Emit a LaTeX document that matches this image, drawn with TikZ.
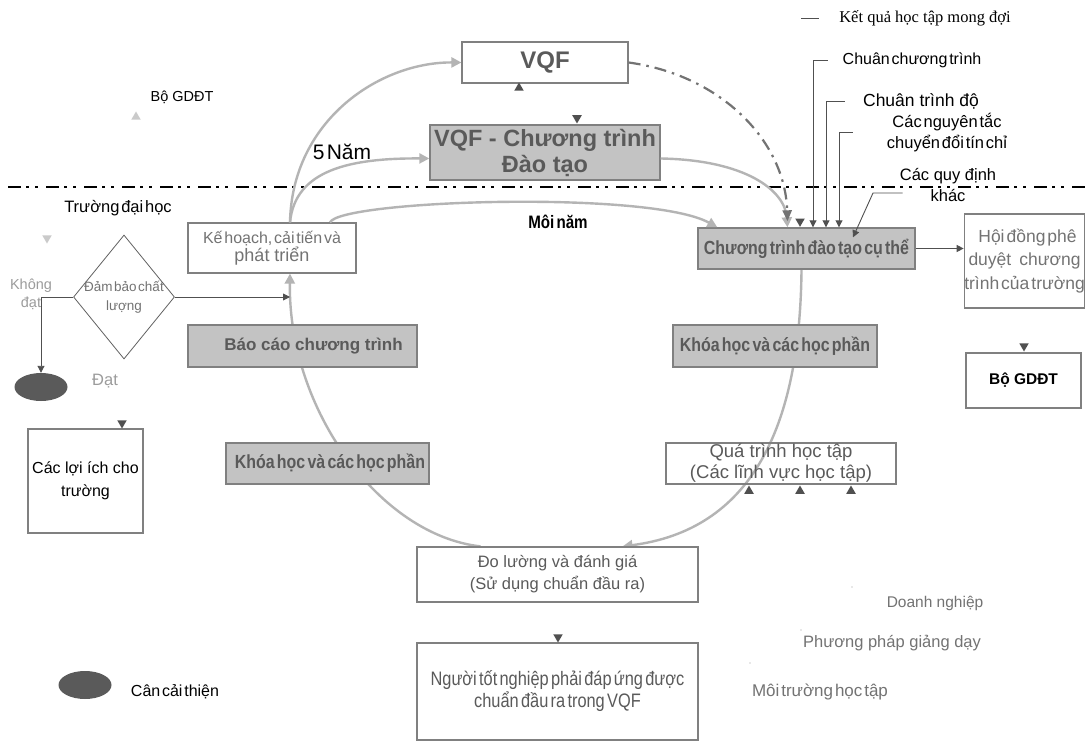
\documentclass[tikz,border=0pt]{standalone}
\usepackage{fontspec}
\setmainfont{Liberation Sans}
\newfontfamily\tight[WordSpace=0.4]{Liberation Sans}
\newfontfamily\narrow[FakeStretch=0.84,WordSpace=0.5]{Liberation Sans}
\newfontfamily\timesvn{Liberation Serif}
\usetikzlibrary{arrows.meta,shapes.geometric}

\definecolor{boxline}{HTML}{808080}
\definecolor{boxfill}{HTML}{C3C3C3}
\definecolor{txtgray}{HTML}{5A5A5A}
\definecolor{ringgray}{HTML}{B4B4B4}
\definecolor{darkline}{HTML}{505050}
\definecolor{ovalfill}{HTML}{5A5A5A}
\definecolor{lightgray}{HTML}{9C9C9C}
\definecolor{palegray}{HTML}{CACACA}

\newcommand{\fs}[2]{\fontsize{#1}{#2}\selectfont}

\pgfdeclarelayer{back}
\pgfsetlayers{back,main}

\tikzset{
  whitebox/.style={draw=boxline, fill=white, line width=1.2pt, text=txtgray, align=center, inner sep=0pt},
  graybox/.style={draw=boxline, fill=boxfill, line width=1.4pt, text=txtgray, align=center, inner sep=0pt},
  lbl/.style={inner sep=0pt, align=center},
  ringline/.style={draw=ringgray, line width=2.4pt, -{Triangle[length=10pt,width=10pt]}},
  thinarr/.style={draw=darkline, line width=0.9pt, -{Triangle[length=7pt,width=7pt]}},
  tipup/.style={regular polygon, regular polygon sides=3, fill=#1, inner sep=0pt, minimum size=11pt},
  tipdown/.style={tipup=#1, shape border rotate=180},
  oval/.style={ellipse, fill=ovalfill, minimum width=53pt, minimum height=28pt, inner sep=0pt}
}

\begin{document}
\begin{tikzpicture}[x=1pt, y=-1pt]
\begin{pgfonlayer}{back}
\fill[white] (0,0) rectangle (1086,741);
\end{pgfonlayer}
\useasboundingbox (0,0) rectangle (1086,741);

% ranh gioi Bo / Truong
\draw[line width=2pt, dash pattern=on 13pt off 5pt on 3pt off 6pt on 3pt off 8pt] (8,187) -- (1086,187);

% cac khoi
\node[whitebox, minimum width=166pt, minimum height=41pt, font=\bfseries\fs{24}{28}] (vqf) at (545,62.5) {VQF};
\node[graybox, minimum width=230pt, minimum height=55pt, font=\bfseries\fs{23.5}{26}] (vqfct) at (545,152.5) {VQF - Chương trình\\Đào tạo};
\node[whitebox, minimum width=168pt, minimum height=50pt, text=txtgray!85] (plan) at (272,248) {\tight\fs{16}{21}Kế hoạch, cải tiến và\\\fs{18}{21}phát triển};
\node[graybox, minimum width=217pt, minimum height=41pt, font=\narrow\bfseries\fs{19}{22}] (cuthe) at (806.5,248.5) {Chương trình đào tạo cụ thể};
\node[whitebox, minimum width=117pt, minimum height=94pt, font=\tight\fs{17.5}{23.5}, text=txtgray!85] (council) at (1024.5,261) {\hspace*{6pt}Hội đồng phê\\\makebox[112pt][s]{duyệt\hfill chương}\\trình của trường};
\node[whitebox, minimum width=115pt, minimum height=55pt, font=\bfseries\fs{15.5}{18}, text=black] (moetbox) at (1023.5,380.5) {Bộ GDĐT};
\node[graybox, minimum width=204pt, minimum height=42pt, font=\narrow\bfseries\fs{19}{22}] (courseR) at (775,346) {Khóa học và các học phần};
\node[whitebox, fill=none, minimum width=230pt, minimum height=41pt, font=\fs{18.5}{21}] (learn) at (781,463.5) {Quá trình học tập\\(Các lĩnh vực học tập)};
\node[whitebox, minimum width=281pt, minimum height=55pt, font=\fs{16.5}{22}] (assess) at (557.5,574.5) {Đo lường và đánh giá\\(Sử dụng chuẩn đầu ra)};
\node[whitebox, minimum width=281pt, minimum height=97pt, font=\narrow\fs{19.5}{22}] (grad) at (557.5,691.5) {Người tốt nghiệp phải đáp ứng được\\chuẩn đầu ra trong VQF};
\node[graybox, minimum width=229pt, minimum height=42pt, font=\bfseries\fs{17}{20}] (report) at (302.5,346) {\hspace*{22pt}Báo cáo chương trình};
\node[graybox, minimum width=203pt, minimum height=41pt, font=\narrow\bfseries\fs{19}{22}] (courseL) at (327.5,463.5) {\hspace*{5pt}Khóa học và các học phần};
\node[whitebox, minimum width=115pt, minimum height=104pt, font=\fs{16}{23}, text=black] (benefit) at (85.5,481) {Các lợi ích cho\\trường};

% dam bao chat luong
\node[diamond, draw=darkline!90, line width=0.8pt, minimum width=101pt, minimum height=124pt, inner sep=0pt] (qa) at (124,297) {};
\node[lbl, text=txtgray!85, font=\tight\fs{13.5}{19}] (qatext) at (124,297.5) {Đảm bảo chất\\lượng};
\node[oval] (pass) at (41,387) {};
\node[oval] (improve) at (85,685) {};
\node[lbl, text=lightgray, font=\fs{16.5}{20}] (passlbl) at (105,381) {Đạt};
\node[lbl, font=\tight\fs{16}{18}] (improvelbl) at (175,692) {Cân cải thiện};
\node[lbl, text=lightgray, font=\fs{14.5}{18}] (faillbl) at (31,294) {Không\\đạt};
\coordinate (join) at (290,297);
\draw[thinarr] (qa.west) -| (pass.north);
\draw[thinarr] (qa.east) -- (join);

% nhan chu
\node[lbl, font=\fs{14.5}{17}] (moet) at (182,97) {Bộ GDĐT};
\node[lbl, font=\tight\fs{16.5}{18}] (uni) at (118,208) {Trường đại học};
\node[lbl, font=\tight\fs{21}{24}] (fiveyr) at (342,152) {5 Năm};
\node[lbl, font=\narrow\bfseries\fs{18}{20}] (yearly) at (558,222) {Môi năm};
\node[lbl, font=\timesvn\fs{16.5}{18}] (outcome) at (925,18) {Kết quả học tập mong đợi};
\node[lbl, font=\tight\fs{16}{18}] (stdA) at (912,60) {Chuân chương trình};
\node[lbl, font=\fs{17.5}{20}] (stdB) at (921,101) {Chuân trình độ};
\node[lbl, font=\tight\fs{16.5}{21}] (stdC) at (947,132.5) {Các nguyên tắc\\chuyển đổi tín chỉ};
\node[lbl, font=\fs{16.5}{21}] (stdD) at (948,185.5) {Các quy định\\khác};
\node[lbl, text=txtgray!85, font=\fs{15.5}{18}] (biz) at (935,603) {Doanh nghiệp};
\node[lbl, text=txtgray!85, font=\fs{16.5}{18}] (teach) at (892,643) {Phương pháp giảng dạy};
\node[lbl, text=txtgray!85, font=\tight\fs{17}{18}] (env) at (820,692) {Môi trường học tập};
\fill[lightgray] (852,587) circle (0.7) (801,630) circle (0.7) (750,663) circle (0.7);

% mui ten nho
\node[tipup=darkline] (tA) at (519,88) {};
\node[tipdown=darkline] (tB) at (577,118) {};
\node[tipup=palegray] (tC) at (136,117) {};
\node[tipdown=palegray] (tD) at (47,238) {};
\node[tipdown=darkline] (tE) at (122,423) {};
\node[tipdown=darkline] (tF) at (558,637) {};
\node[tipdown=darkline] (tG) at (1024,346) {};
\node[tipdown=darkline] (tH) at ([xshift=-6.5,yshift=6]cuthe.north) {};
\node[tipup=darkline] (tI) at (749,491) {};
\node[tipup=darkline] (tJ) at (800,491) {};
\node[tipup=darkline] (tK) at (851,491) {};

% vong chinh
\begin{pgfonlayer}{back}
\draw[ringline] ([xshift=-5]cuthe.south) .. controls (800,430) and (750,530) .. ([xshift=65]assess.north);
\draw[ringline] ([xshift=-77]assess.north) .. controls (380,535) and (288,410) .. ([xshift=18]plan.south);
\end{pgfonlayer}

% 5 nam / moi nam
\draw[ringline] ([xshift=18]plan.north) .. controls (292,120) and (380,62) .. (vqf.west);
\draw[ringline] ([xshift=18]plan.north) .. controls (295,170) and (350,158) .. ([yshift=-6]vqfct.west);
\draw[ringline] ([xshift=58]plan.north) .. controls (340,200) and (650,190) .. ([xshift=20]cuthe.north west);
\draw[ringline] ([yshift=-6]vqfct.east) .. controls (745,160) and (785,190) .. ([xshift=-19]cuthe.north);
\draw[draw=darkline!80, line width=2.2pt, dash pattern=on 12pt off 6pt on 2.5pt off 6pt, -{Triangle[length=11pt,width=9pt]}]
  (vqf.east) .. controls (720,75) and (785,140) .. ([xshift=-19,yshift=6]cuthe.north);

% chuan dau vao
\draw[darkline, line width=0.8pt] ([xshift=-38]outcome.west) -- ([xshift=-20]outcome.west);
\draw[thinarr] ([xshift=-15]stdA.west) -| ([xshift=6.5]cuthe.north);
\draw[thinarr] ([xshift=-18]stdB.west) -| ([xshift=19.5]cuthe.north);
\draw[thinarr] ([xshift=-34]stdC.west) -| ([xshift=32.5]cuthe.north);
\coordinate (bendD) at (873,193);
\draw[thinarr] ([xshift=3,yshift=-7.5]stdD.west) -- (bendD) -- ([xshift=46.5,yshift=-10]cuthe.north);
\draw[thinarr] (cuthe.east) -- (cuthe.east -| council.west);
\end{tikzpicture}
\end{document}
